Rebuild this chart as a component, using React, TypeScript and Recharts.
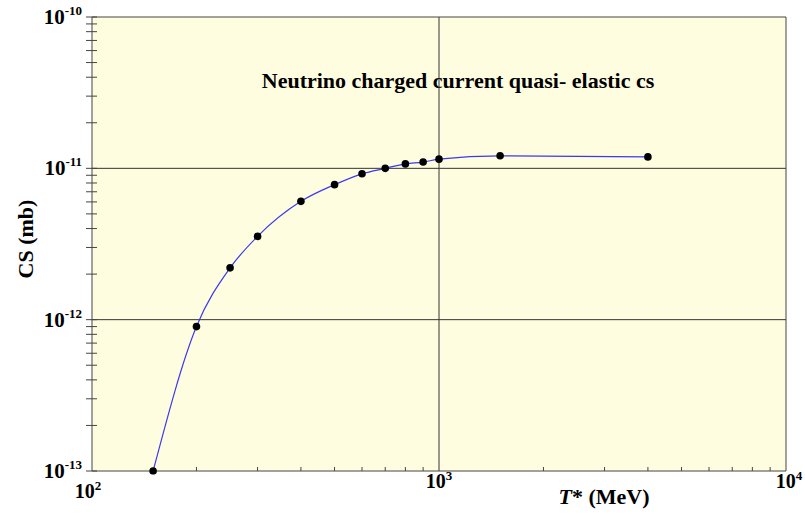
import { LineChart, Line, XAxis, YAxis, CartesianGrid, ReferenceLine } from 'recharts';

// kinetic energy T* (MeV) and cross section (mb)
const energies = [150, 200, 250, 300, 400, 500, 600, 700, 800, 900, 1000, 1500, 4000];
const crossSections = [1.0e-13, 0.9e-12, 2.2e-12, 3.55e-12, 6.05e-12, 7.8e-12, 9.2e-12, 1.0e-11, 1.07e-11, 1.1e-11, 1.15e-11, 1.21e-11, 1.19e-11];

const xTicks = [100, 200, 300, 400, 500, 600, 700, 800, 900, 1000, 2000, 3000, 4000, 5000, 6000, 7000, 8000, 9000, 10000];
const yTicks = [
  1e-13, 2e-13, 3e-13, 4e-13, 5e-13, 6e-13, 7e-13, 8e-13, 9e-13,
  1e-12, 2e-12, 3e-12, 4e-12, 5e-12, 6e-12, 7e-12, 8e-12, 9e-12,
  1e-11, 2e-11, 3e-11, 4e-11, 5e-11, 6e-11, 7e-11, 8e-11, 9e-11,
  1e-10,
];

const xMajor: Record<number, string> = { 100: '2', 1000: '3', 10000: '4' };
const yMajor: Record<string, string> = { '1e-13': '-13', '1e-12': '-12', '1e-11': '-11', '1e-10': '-10' };

const data = energies.map((t, i) => ({ t, cs: crossSections[i] }));

const FONT = '"Liberation Serif", "Times New Roman", serif';
const AXIS = '#444';

function XTick(props: any) {
  const { x, y, payload } = props;
  const exp = xMajor[payload.value];
  let dx = 0;
  let dy = 17;
  if (payload.value === 100) { dx = -4; dy = 27; }
  if (payload.value === 10000) { dx = 3; }
  return (
    <g>
      {!exp && <line x1={x} x2={x} y1={y} y2={y - 4} stroke={AXIS} strokeWidth={1} />}
      {exp && (
        <text x={x + dx} y={y + dy} textAnchor="middle" fontFamily={FONT} fontWeight="bold" fontSize={20} fill="#000">
          10<tspan dy={-8} fontSize={13}>{exp}</tspan>
        </text>
      )}
    </g>
  );
}

function YTick(props: any) {
  const { x, y, payload } = props;
  const exp = yMajor[String(payload.value)];
  return (
    <g>
      <line x1={x - 6} x2={x + 5} y1={y} y2={y} stroke={AXIS} strokeWidth={1} />
      {exp && (
        <text x={x - 10} y={y + 7} textAnchor="end" fontFamily={FONT} fontWeight="bold" fontSize={21} fill="#000">
          10<tspan dy={-9} fontSize={13}>{exp}</tspan>
        </text>
      )}
    </g>
  );
}

export default function App() {
  return (
    <div style={{ position: 'absolute', left: 0, top: 0, background: '#fff' }}>
      <LineChart width={805} height={514} data={data} margin={{ top: 17, right: 19, left: 0, bottom: 0 }}>
        <CartesianGrid horizontal={false} vertical={false} fill="#FFFDE0" />
        <XAxis
          dataKey="t"
          type="number"
          scale="log"
          domain={[100, 10000]}
          ticks={xTicks}
          interval={0}
          allowDataOverflow
          height={43}
          tickSize={0}
          tickMargin={0}
          tick={<XTick />}
          axisLine={{ stroke: AXIS }}
          tickLine={false}
        />
        <YAxis
          dataKey="cs"
          type="number"
          scale="log"
          domain={[1e-13, 1e-10]}
          ticks={yTicks}
          interval={0}
          allowDataOverflow
          width={92}
          tickSize={0}
          tickMargin={0}
          tick={<YTick />}
          axisLine={{ stroke: AXIS }}
          tickLine={false}
        />
        <ReferenceLine x={1000} stroke="#333" />
        <ReferenceLine y={1e-11} stroke="#333" />
        <ReferenceLine y={1e-12} stroke="#333" />
        <ReferenceLine x={10000} stroke={AXIS} />
        <ReferenceLine y={1e-10} stroke={AXIS} />
        <Line
          dataKey="cs"
          type="monotone"
          stroke="#3a3af0"
          strokeWidth={1.2}
          dot={{ r: 3.8, fill: '#000', stroke: '#000', strokeWidth: 0, clipDot: false }}
          activeDot={false}
          isAnimationActive={false}
        />
        <text x={458} y={88} textAnchor="middle" fontFamily={FONT} fontWeight="bold" fontSize={22} fill="#000">
          Neutrino charged current quasi- elastic cs
        </text>
        <text transform="translate(33,239) rotate(-90)" textAnchor="middle" fontFamily={FONT} fontWeight="bold" fontSize={22} fill="#000">
          CS (mb)
        </text>
        <text x={604} y={504} textAnchor="middle" fontFamily={FONT} fontWeight="bold" fontSize={22} fill="#000">
          <tspan fontStyle="italic">T</tspan>* (MeV)
        </text>
      </LineChart>
    </div>
  );
}
